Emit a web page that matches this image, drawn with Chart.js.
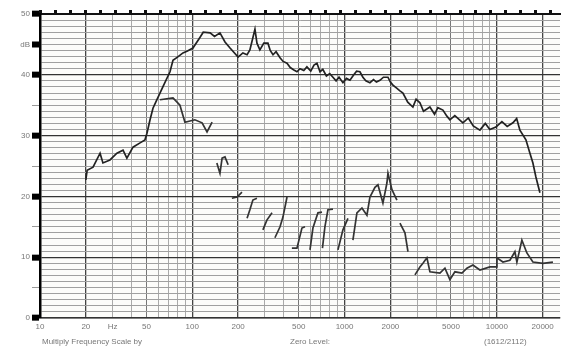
<!DOCTYPE html>
<html>
<head>
<meta charset="utf-8">
<script src="https://cdn.jsdelivr.net/npm/chart.js@4/dist/chart.umd.min.js"></script>
<style>
body{margin:0;background:#fff}
#caixa{position:relative;width:563px;height:349px}
.rodape{position:absolute;top:337px;font:8px "Liberation Sans",Arial,sans-serif;color:#777;white-space:nowrap}
</style>
</head>
<body>
<div id="caixa">
<canvas id="grafico" width="563" height="349"></canvas>
<div class="rodape" style="left:42px">Multiply Frequency Scale by</div>
<div class="rodape" style="left:290px">Zero Level:</div>
<div class="rodape" style="left:484px">(1612/2112)</div>
</div>
<script>
// curva superior (resposta principal)
let freqSup=[20,20.4,22.3,24.8,25.9,28.8,32,35.1,37.2,40.8,45.4,48.9,50.4,52.8,55.2,58.6,64.1,71.4,74.7,80,86.9,93,101,112,118,131,140,152,164,177,200,215,229,239,258,266,278,295,314,325,339,355,377,395,419,440,465,487,510,540,566,600,630,659,690,720,760,800,839,880,920,976,1030,1085,1150,1200,1262,1320,1380,1468,1550,1620,1708,1800,1928,2000,2079,2200,2300,2418,2600,2812,2950,3126,3300,3636,3900,4100,4426,4700,4920,5300,5990,6500,7000,7745,8400,9000,9862,10800,11700,12760,13500,14180,15530,16500,17260,18060,19190]
let dbSup=[22.7,24.3,24.8,27.1,25.5,26,27.1,27.6,26.3,28.1,28.8,29.3,30.4,32.6,34.5,35.9,38,40.5,42.4,42.9,43.6,43.9,44.4,46.1,47,46.9,46.3,46.9,45.4,44.4,42.9,43.6,43.3,44.1,47.5,45.2,44.1,45.2,45.2,44,43.3,43.8,42.8,42.2,41.9,41.2,40.8,40.5,41,40.7,41.3,40.6,41.6,41.9,40.5,40.9,39.8,40.2,39.6,39,39.6,38.7,39.4,39.1,40,40.6,40.5,39.6,39,38.7,39.2,38.8,39.1,39.6,39.6,38.8,38.3,37.8,37.4,37,35.5,34.7,36,35.4,34,34.7,33.5,34.6,34.2,33.2,32.6,33.3,32.1,32.9,31.6,30.9,32,31,31.4,32.3,31.5,32.1,32.8,30.9,29.3,27.1,25.5,23.2,20.6]

// curva inferior (tracos interrompidos, null = falha)
let freqInf=[61.4,74.7,83,85.5,89.5,104,116,125,135,140,145,152,157,164,172,177,182,197,212,220,229,239,250,266,278,291,309,334,341,349,377,394,419,435,451,487,525,550,570,593,620,669,711,713,716,743,778,839,870,905,976,1053,1090,1135,1206,1301,1403,1468,1584,1657,1787,1898,1928,2048,2208,2260,2311,2493,2609,2700,2900,3126,3272,3476,3636,4230,4563,4920,5306,5902,6365,6966,7745,9011,10015,10015,10970,12190,13150,13550,14610,15760,17260,20080,23360]
let dbInf=[35.9,36.2,35,33.9,32.2,32.6,32.1,30.6,32.2,null,25.5,23.8,26.3,26.5,25.2,null,19.7,19.9,20.7,null,16.4,17.8,19.4,19.7,null,14.5,16.1,17.3,null,13.2,15,16.6,19.9,null,11.5,11.5,14.8,15,null,11.2,14.8,17.3,17.4,null,11.5,15,17.8,17.9,null,11.2,14.5,16.4,null,12.8,17.3,18.1,16.9,19.9,21.5,21.9,18.9,22.2,23.8,21.1,19.4,null,15.6,14,10.9,null,7.1,8.4,9,9.9,7.6,7.4,8.2,6.3,7.6,7.4,8.2,8.7,7.9,8.4,8.4,9.9,9.2,9.5,10.9,9.2,12.8,10.7,9.2,9,9.2]

// grade do papel
let ticksFreq=[10,20,30,40,50,60,70,80,90,100,200,300,400,500,600,700,800,900,1000,2000,3000,4000,5000,6000,7000,8000,9000,10000,20000]
let rotulosFreq={10:'10',20:'20',30:'Hz',50:'50',100:'100',200:'200',500:'500',1000:'1000',2000:'2000',5000:'5000',10000:'10000',20000:'20000'}
let rotulosDb={0:'0',10:'10',20:'20',30:'30',40:'40',45:'dB',50:'50'}

let pontos=(fs,ds)=>fs.map((f,i)=>({x:f,y:ds[i]}))

let mantissa=v=>v/Math.pow(10,Math.floor(Math.log10(v)+1e-9))
let forte=v=>{let m=mantissa(v);return Math.abs(m-1)<1e-6||Math.abs(m-2)<1e-6}

let fundo={
id:'fundo',
beforeDraw(c){
let a=c.chartArea
c.ctx.save()
c.ctx.fillStyle='#fcfcfa'
c.ctx.fillRect(a.left,a.top,a.right-a.left,a.bottom-a.top)
c.ctx.restore()
}
}

let fonte={family:'"Liberation Sans", Arial, sans-serif',size:8}

new Chart(document.getElementById('grafico'),{
type:'line',
data:{
datasets:[{
data:pontos(freqSup,dbSup),
borderColor:'#222',
borderWidth:1.7,
pointRadius:0,
tension:0,
spanGaps:false
},{
data:pontos(freqInf,dbInf),
borderColor:'#333',
borderWidth:1.7,
pointRadius:0,
tension:0,
spanGaps:false
}]
},
options:{
responsive:false,
animation:false,
layout:{padding:{left:0,right:3,top:0,bottom:0}},
plugins:{legend:{display:false},tooltip:{enabled:false}},
scales:{
x:{
type:'logarithmic',
min:10,
max:26000,
afterBuildTicks:s=>{s.ticks=ticksFreq.map(v=>({value:v}))},
afterFit:s=>{s.height=31},
ticks:{
autoSkip:false,
maxRotation:0,
padding:4,
color:'#777',
font:fonte,
callback:v=>rotulosFreq[v]||''
},
grid:{
drawTicks:false,
color:c=>{
let v=c.tick&&c.tick.value
if(forte(v))return '#444'
if(Math.abs(mantissa(v)-5)<1e-6)return '#777'
return '#aaa'
},
lineWidth:c=>forte(c.tick&&c.tick.value)?1.3:1
},
border:{color:'#333',width:1.5}
},
topo:{
type:'linear',
position:'top',
min:0,
max:34.6,
afterBuildTicks:s=>{let t=[];for(let i=0;i<=34;i++)t.push({value:i});s.ticks=t},
afterFit:s=>{s.height=14},
ticks:{display:false},
grid:{drawOnChartArea:false,tickLength:4,tickWidth:3,tickColor:'#111'},
border:{color:'#111',width:2}
},
y:{
min:0,
max:50,
afterBuildTicks:s=>{let t=[];for(let i=0;i<=50;i++)t.push({value:i});s.ticks=t},
afterFit:s=>{s.width=40},
ticks:{
autoSkip:false,
padding:2,
color:'#777',
font:fonte,
callback:v=>rotulosDb[v]||''
},
grid:{
tickLength:8,
tickWidth:c=>(c.tick.value%10===0||c.tick.value===45)?6:1,
tickColor:c=>(c.tick.value%10===0||c.tick.value===45)?'#000':(c.tick.value%5===0?'#999':'rgba(0,0,0,0)'),
color:c=>c.tick.value%10===0?'#333':'#a0a0a0',
lineWidth:c=>c.tick.value%10===0?1.3:1
},
border:{color:'#000',width:2.5}
}
}
},
plugins:[fundo]
})
</script>
</body>
</html>
